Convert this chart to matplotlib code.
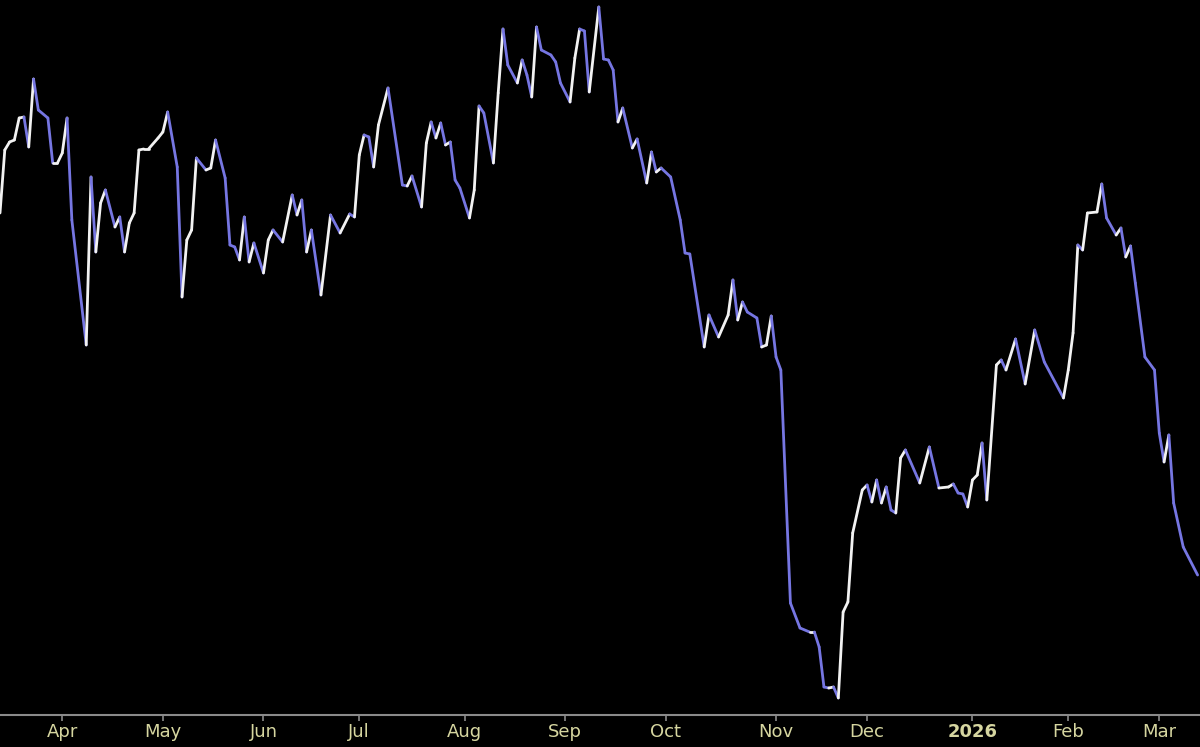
import numpy as np
import matplotlib
matplotlib.use("Agg")
import matplotlib.pyplot as plt
from matplotlib.collections import LineCollection

# trading sessions counted from 2025-03-13, and closing values
session = [0, 1, 2, 3, 4, 5, 6, 7, 8, 10, 11, 12, 13, 14, 15, 18, 19, 20, 21, 22,
           24, 25, 26, 27, 28, 29, 30, 31, 33, 34, 35, 37, 38, 39, 40, 41, 43, 44, 45, 47,
           48, 49, 50, 51, 52, 53, 55, 56, 57, 59, 61, 62, 63, 64, 65, 67, 69, 71, 73, 74,
           75, 76, 77, 78, 79, 81, 84, 85, 86, 88, 89, 90, 91, 92, 93, 94, 95, 96, 98, 99,
           100, 101, 103, 104, 105, 106, 108, 109, 110, 111, 112, 113, 115, 116, 117, 119, 120, 121, 122, 123,
           125, 126, 127, 128, 129, 130, 132, 133, 135, 136, 137, 138, 140, 142, 143, 144, 147, 148, 150, 152,
           153, 154, 155, 156, 158, 159, 160, 161, 162, 163, 165, 167, 169, 170, 171, 172, 173, 174, 175, 176,
           177, 178, 180, 181, 182, 183, 184, 185, 186, 187, 188, 189, 192, 194, 196, 198, 199, 200, 201, 202,
           203, 204, 205, 206, 208, 209, 210, 212, 214, 216, 218, 222, 223, 224, 225, 226, 227, 229, 230, 231,
           233, 234, 235, 236, 237, 239, 241, 242, 243, 244, 245, 247, 250]
close = [90.2, 96.5, 97.3, 97.5, 99.7, 99.8, 96.8, 103.6, 100.5, 99.7, 95.2, 95.2, 96.2, 99.7, 89.5, 77.0, 93.8, 86.3, 91.2, 92.5,
         88.8, 89.8, 86.3, 89.2, 90.2, 96.5, 96.6, 96.6, 97.7, 98.3, 100.3, 94.8, 81.8, 87.5, 88.5, 95.7, 94.5, 94.7, 97.5, 93.7,
         87.0, 86.8, 85.5, 89.8, 85.3, 87.2, 84.2, 87.5, 88.5, 87.3, 92.0, 90.0, 91.5, 86.3, 88.5, 82.0, 90.0, 88.2, 90.1, 89.8,
         96.0, 98.0, 97.8, 94.8, 99.0, 102.7, 93.0, 92.9, 93.9, 90.8, 97.2, 99.3, 97.7, 99.2, 97.0, 97.3, 93.5, 92.7, 89.7, 92.5,
         100.9, 100.2, 95.2, 102.2, 108.6, 105.0, 103.2, 105.5, 104.0, 101.8, 108.8, 106.5, 106.0, 105.3, 103.2, 101.3, 105.7, 108.6, 108.4, 102.3,
         110.8, 105.6, 105.5, 104.5, 99.3, 100.7, 96.7, 97.6, 93.2, 96.3, 94.3, 94.7, 93.8, 89.5, 86.2, 86.1, 76.8, 80.0, 77.8, 80.0,
         83.5, 79.5, 81.3, 80.3, 79.7, 76.8, 77.0, 79.9, 75.8, 74.5, 51.2, 48.7, 48.3, 48.3, 46.8, 42.8, 42.7, 42.8, 41.7, 50.3,
         51.3, 58.2, 62.5, 63.0, 61.3, 63.5, 61.2, 62.8, 60.5, 60.2, 65.7, 66.5, 63.2, 66.8, 62.7, 62.8, 63.1, 62.2, 62.1, 60.8,
         63.5, 64.0, 67.2, 61.5, 75.0, 75.5, 74.5, 77.6, 73.1, 78.5, 75.3, 71.7, 74.5, 78.2, 87.0, 86.5, 90.2, 90.3, 93.1, 89.7,
         88.0, 88.7, 85.8, 86.9, 83.2, 75.8, 74.5, 68.2, 65.3, 68.0, 61.2, 56.8, 54.0]

start_date = '2025-03-13'
holidays = ['2025-04-18', '2025-05-26', '2025-06-19', '2025-07-04', '2025-09-01',
            '2025-11-27', '2025-12-25', '2026-01-01', '2026-01-19', '2026-02-16']
month_starts = ['2025-04-01', '2025-05-01', '2025-06-01', '2025-07-01', '2025-08-01', '2025-09-01',
                '2025-10-01', '2025-11-01', '2025-12-01', '2026-01-01', '2026-02-01', '2026-03-01']
month_labels = ['Apr', 'May', 'Jun', 'Jul', 'Aug', 'Sep', 'Oct', 'Nov', 'Dec', '2026', 'Feb', 'Mar']

up_color = '#f2f2f2'
down_color = '#7676e2'
label_color = '#d6d6a0'
axis_color = '#8a8a8a'

x = np.array(session, dtype=float)
y = np.array(close)

# tick positions = first trading session of each month
first_days = np.busday_offset(np.array(month_starts, dtype='datetime64[D]'), 0,
                              roll='forward', holidays=holidays)
tick_pos = np.busday_count(np.datetime64(start_date), first_days, holidays=holidays)

fig = plt.figure(figsize=(12, 7.47), dpi=100, facecolor='black')
ax = fig.add_axes([0, 32 / 747, 1, 715 / 747])
ax.set_facecolor('black')

pts = np.column_stack([x, y]).reshape(-1, 1, 2)
segs = np.concatenate([pts[:-1], pts[1:]], axis=1)
colors = [up_color if y[i + 1] >= y[i] else down_color for i in range(len(y) - 1)]
lc = LineCollection(segs, colors=colors, linewidths=2.0, capstyle='round', joinstyle='round')
ax.add_collection(lc)

ax.set_xlim(0, 250.5)
ax.set_ylim(40, 111.5)

for s in ['top', 'left', 'right']:
    ax.spines[s].set_visible(False)
ax.spines['bottom'].set_color(axis_color)
ax.spines['bottom'].set_linewidth(1.5)

ax.set_yticks([])
ax.set_xticks(tick_pos)
ax.set_xticklabels(month_labels)
ax.tick_params(axis='x', colors=axis_color, length=4, width=1.2, direction='out', pad=2)
for lbl in ax.get_xticklabels():
    lbl.set_color(label_color)
    lbl.set_fontsize(13)
    if lbl.get_text() == '2026':
        lbl.set_fontweight('bold')

fig.savefig('out.png', dpi=100, facecolor='black')
